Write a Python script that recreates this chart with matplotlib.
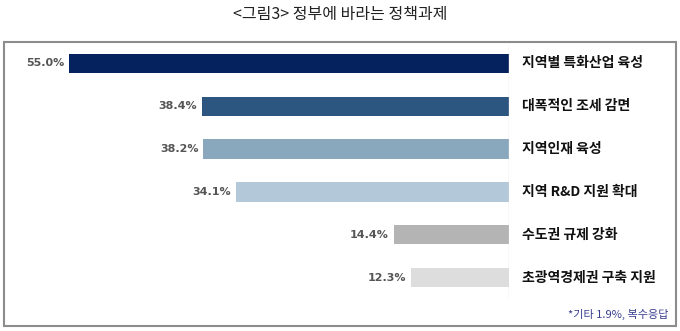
import matplotlib
matplotlib.use("Agg")
import matplotlib.pyplot as plt
from matplotlib.patches import Rectangle

plt.rcParams['font.family'] = ['Noto Sans CJK KR', 'DejaVu Sans']

# data
categories = ['지역별 특화산업 육성', '대폭적인 조세 감면', '지역인재 육성',
              '지역 R&D 지원 확대', '수도권 규제 강화', '초광역경제권 구축 지원']
values = [55.0, 38.4, 38.2, 34.1, 14.4, 12.3]
colors = ['#05215e', '#2c5580', '#8aa8bd', '#b3c8d9', '#b4b4b4', '#dddddd']
title = '<그림3> 정부에 바라는 정책과제'
note = '*기타 1.9%, 복수응답'

W, H = 680, 331
fig = plt.figure(figsize=(W / 100, H / 100), dpi=100)

# outer frame
frame = Rectangle((4 / W, 1 - 326 / H), 672 / W, 284 / H, transform=fig.transFigure,
                  fill=False, edgecolor='#8c8c8c', linewidth=1.5)
fig.patches.append(frame)

ax = fig.add_axes([4 / W, 1 - 299 / H, 505 / W, 257 / H])
ypos = list(range(len(categories)))
ax.barh(ypos, values, height=0.45, color=colors)
ax.set_xlim((509 - 4) / 8, 0)
ax.set_ylim(len(categories) - 0.5, -0.5)
ax.axis('off')
ax.axvline(0, color='#dcdcdc', linewidth=1)

for y, v, c in zip(ypos, values, categories):
    ax.text(v + 0.6, y, f'{v:.1f}%', ha='right', va='center', fontsize=8,
            color='#555555', fontweight='bold', family='DejaVu Sans')
    ax.text(-1.6, y, c, ha='left', va='center', fontsize=10,
            fontweight='bold', color='#111111')

fig.text(0.5, 1 - 14 / H, title, ha='center', va='center', fontsize=11.5, color='#222222')
fig.text(668 / W, 1 - 314 / H, note, ha='right', va='center', fontsize=8, color='#3a3f8f')

fig.savefig('out.png', dpi=100)
